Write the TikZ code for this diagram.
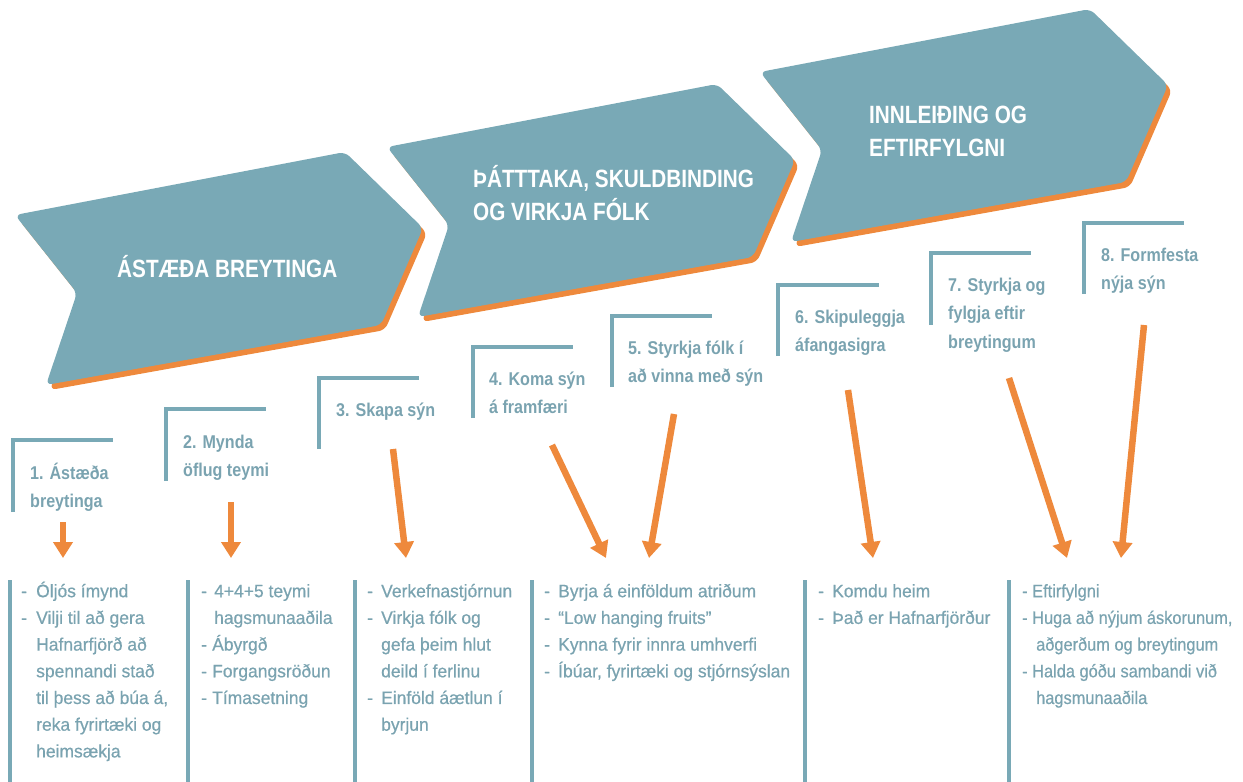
\documentclass[tikz,border=0pt]{standalone}
\usepackage{fontspec}
\setmainfont[FakeStretch=0.97,FakeBold=0.6]{Liberation Sans}
\newfontfamily\narrowfont[FakeStretch=0.91,FakeBold=0.6]{Liberation Sans}
\newfontfamily\headfont[FakeStretch=0.83]{Liberation Sans}
\newfontfamily\labfont[FakeStretch=0.87]{Liberation Sans}
\usetikzlibrary{arrows.meta}
\definecolor{teal1}{RGB}{121,169,182}
\definecolor{orng}{RGB}{238,137,60}
\definecolor{txt}{RGB}{122,163,176}
\newcommand\dsh[1][14pt]{\makebox[#1][l]{-}}
\newcommand\ind[1][14pt]{\hspace*{#1}}
\tikzset{
  chevron/.pic={
    \fill[orng,rounded corners=6pt] (169,-26.5) -- (334,-58) -- (412,18) -- (370,115) -- (35,175) -- (66,83) -- (4,5) -- cycle;
    \fill[teal1,rounded corners=6pt] (165,-31.5) -- (330,-63) -- (408,13) -- (366,110) -- (31,170) -- (62,78) -- (0,0) -- cycle;
  },
  head/.style={text=white, inner sep=0pt, align=left, font=\headfont\bfseries\fontsize{25}{33}\selectfont},
  lab/.style={text=txt, inner sep=0pt, align=left, anchor=north west, font=\labfont\bfseries\fontsize{18.5}{28.5}\selectfont},
  col/.style={text=txt, inner sep=0pt, align=left, anchor=north west, font=\fontsize{18}{26.7}\selectfont},
  brk/.style={draw=teal1, line width=4pt},
  arr/.style={draw=orng, line width=6.5pt, -{Triangle[width=19pt,length=16pt]}}
}
\begin{document}
\begin{tikzpicture}[x=1pt,y=-1pt]
\useasboundingbox (0,0) rectangle (1243,782);
% chevrons
\pic at (15,215) {chevron};
\pic at (387,147) {chevron};
\pic at (760,72) {chevron};
\node[head, anchor=base west] (h1) at (117,277) {ÁSTÆÐA BREYTINGA};
\node[head, anchor=north west] (h2) at (473,164) {\strut ÞÁTTTAKA, SKULDBINDING\\OG VIRKJA FÓLK};
\node[head, anchor=north west] (h3) at (869,100.6) {\strut INNLEIÐING OG\\EFTIRFYLGNI};
% brackets
\draw[brk] (13,512) |- (113,440);
\draw[brk] (166,481) |- (266,409);
\draw[brk] (319,449) |- (419,378);
\draw[brk] (473,418) |- (573,347);
\draw[brk] (612,387) |- (712,316);
\draw[brk] (778,356) |- (879,285);
\draw[brk] (931,325) |- (1031,253);
\draw[brk] (1084,294) |- (1184,223);
% labels
\node[lab] (l1) at (30,459) {\strut 1. Ástæða\\breytinga};
\node[lab] (l2) at (183,428) {\strut 2. Mynda\\öflug teymi};
\node[lab] (l3) at (336,396) {\strut 3. Skapa sýn};
\node[lab] (l4) at (489,365) {\strut 4. Koma sýn\\á framfæri};
\node[lab] (l5) at (628,334) {\strut 5. Styrkja fólk í\\að vinna með sýn};
\node[lab] (l6) at (795,303) {\strut 6. Skipuleggja\\áfangasigra};
\node[lab] (l7) at (948,271) {\strut 7. Styrkja og\\fylgja eftir\\breytingum};
\node[lab] (l8) at (1101,241) {\strut 8. Formfesta\\nýja sýn};
% arrows
\coordinate (a1s) at (63,522);  \coordinate (a1e) at (63,558);
\coordinate (a2s) at (231,502); \coordinate (a2e) at (231,558);
\coordinate (a3s) at (393,449); \coordinate (a3e) at (406,558);
\coordinate (a4s) at (552,445); \coordinate (a4e) at (606,558);
\coordinate (a5s) at (674,414); \coordinate (a5e) at (649,558);
\coordinate (a6s) at (848,390); \coordinate (a6e) at (873,558);
\coordinate (a7s) at (1009,378); \coordinate (a7e) at (1067,558);
\coordinate (a8s) at (1144,325); \coordinate (a8e) at (1121,558);
\foreach \i in {1,...,8} \draw[arr] (a\i s) -- (a\i e);
% column rules
\draw[brk] (10,580) -- (10,782);
\draw[brk] (188,580) -- (188,782);
\draw[brk] (355,580) -- (355,782);
\draw[brk] (532,580) -- (532,782);
\draw[brk] (805,580) -- (805,782);
\draw[brk] (1009,580) -- (1009,782);
% column texts
\node[col] (b1) at (21,578.3) {\strut\dsh[15pt]Óljós ímynd\\\dsh[15pt]Vilji til að gera\\\ind[15pt]Hafnarfjörð að\\\ind[15pt]spennandi stað\\\ind[15pt]til þess að búa á,\\\ind[15pt]reka fyrirtæki og\\\ind[15pt]heimsækja};
\node[col] (b2) at (201,578.3) {\strut\dsh[13pt]4+4+5 teymi\\\ind[13pt]hagsmunaaðila\\\dsh[11pt]Ábyrgð\\\dsh[11pt]Forgangsröðun\\\dsh[11pt]Tímasetning};
\node[col] (b3) at (367,578.3) {\strut\dsh Verkefnastjórnun\\\dsh Virkja fólk og\\\ind gefa þeim hlut\\\ind deild í ferlinu\\\dsh Einföld áætlun í\\\ind byrjun};
\node[col] (b4) at (544,578.3) {\strut\dsh Byrja á einföldum atriðum\\\dsh “Low hanging fruits”\\\dsh Kynna fyrir innra umhverfi\\\dsh Íbúar, fyrirtæki og stjórnsýslan};
\node[col] (b5) at (818,578.3) {\strut\dsh Komdu heim\\\dsh Það er Hafnarfjörður};
\node[col, font=\narrowfont\fontsize{18}{26.7}\selectfont] (b6) at (1022,578.3) {\strut\dsh[10pt]Eftirfylgni\\\dsh[10pt]Huga að nýjum áskorunum,\\\ind aðgerðum og breytingum\\\dsh[10pt]Halda góðu sambandi við\\\ind hagsmunaaðila};
\end{tikzpicture}
\end{document}
